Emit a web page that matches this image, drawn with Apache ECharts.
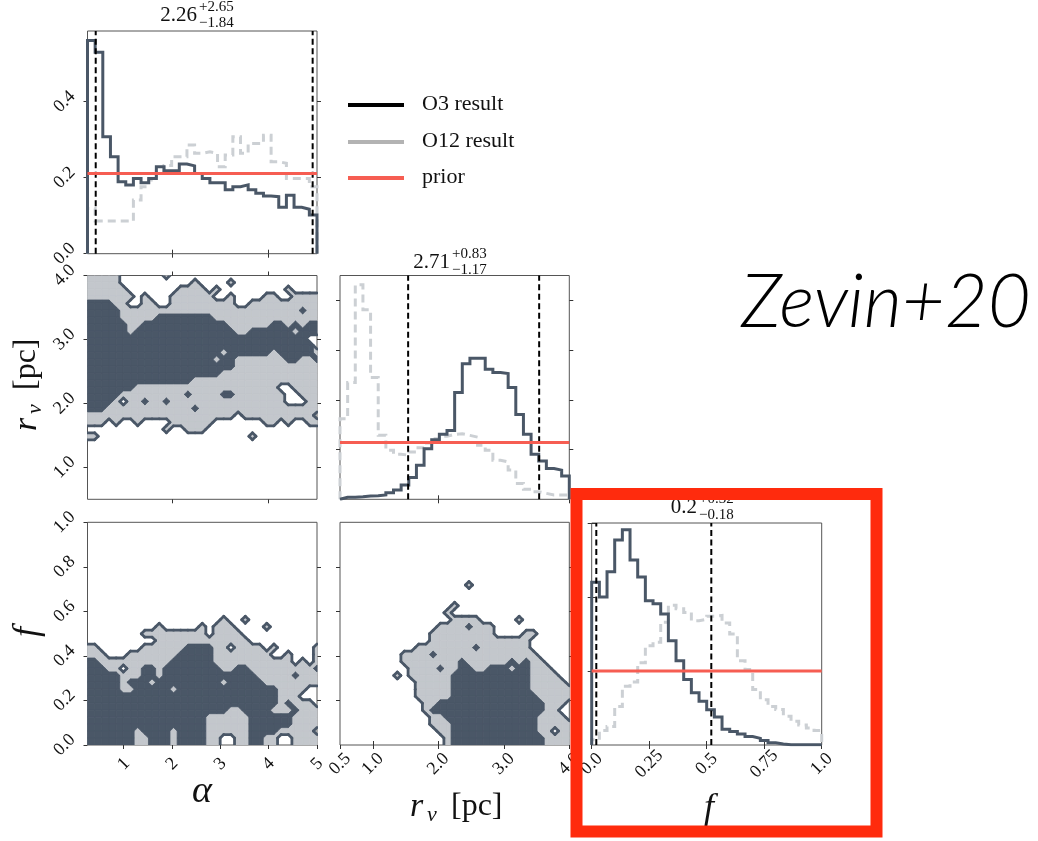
<!DOCTYPE html>
<html><head><meta charset="utf-8">
<script src="https://cdn.jsdelivr.net/npm/echarts@6/dist/echarts.min.js"></script>
<style>html,body{margin:0;padding:0;background:#fff}#c{width:1038px;height:841px}</style>
</head><body><div id="c"></div>
<script>
// ---------- data ----------
const alphaRange = [0.25, 5];
const rvRange = [0.5, 4];
const fRange = [0, 1];
const densAlphaMax = 0.586, densRvMax = 1.127, densFMax = 3.0;

const alphaO3 = [0.561,0.530,0.308,0.255,0.189,0.181,0.198,0.187,0.198,0.229,0.218,0.218,0.236,0.231,0.211,0.198,0.187,0.187,0.168,0.176,0.181,0.168,0.159,0.152,0.150,0.122,0.154,0.122,0.117,0.102];
const alphaO12 = [0.119,0.086,0.086,0.086,0.086,0.086,0.141,0.176,0.194,0.216,0.232,0.255,0.255,0.286,0.264,0.268,0.264,0.229,0.260,0.308,0.264,0.290,0.290,0.312,0.242,0.238,0.198,0.198,0.198,0.176];
const rvO3 = [0.010,0.010,0.013,0.017,0.018,0.022,0.033,0.047,0.072,0.110,0.172,0.255,0.300,0.327,0.347,0.538,0.683,0.710,0.710,0.655,0.638,0.633,0.563,0.427,0.327,0.227,0.193,0.155,0.147,0.117];
const rvO12 = [0.405,0.588,1.080,0.955,0.613,0.322,0.247,0.227,0.222,0.238,0.260,0.283,0.305,0.317,0.327,0.330,0.322,0.313,0.272,0.247,0.197,0.188,0.147,0.080,0.050,0.038,0.030,0.022,0.022,0.022];
const fO3 = [2.20,2.00,2.34,2.77,2.91,2.50,2.27,1.95,1.91,1.77,1.41,1.14,0.886,0.705,0.590,0.477,0.377,0.214,0.182,0.150,0.114,0.090,0.060,0.030,0.014,0.005,0.005,0.005,0.005,0.005];
const fO12 = [0.07,0.195,0.25,0.52,0.795,0.85,1.11,1.34,1.39,1.66,1.89,1.84,1.79,1.68,1.70,1.74,1.75,1.65,1.50,1.14,1.02,0.75,0.61,0.52,0.48,0.39,0.32,0.27,0.23,0.195];

const priorAlpha = 0.211, priorRv = 0.286, priorF = 1.0;
const qAlpha = [0.42, 4.91], qRv = [1.54, 3.54], qF = [0.02, 0.52];
const titleAlpha = ['2.26', '+2.65', '\u22121.84'];
const titleRv = ['2.71', '+0.83', '\u22121.17'];
const titleF = ['0.2', '+0.32', '\u22120.18'];
const legendLabels = ['O3 result', 'O12 result', 'prior'];

const alphaTicks = [1, 2, 3, 4, 5], alphaTickLabels = ['1', '2', '3', '4', '5'];
const alphaTicksUpper = [2, 4];
const rvTicks = [0.5, 1, 2, 3, 4], rvTickLabels = ['0.5', '1.0', '2.0', '3.0', '4.0'];
const rvTicksY = [1, 2, 3, 4], rvTickLabelsY = ['1.0', '2.0', '3.0', '4.0'];
const fTicksY = [0, 0.2, 0.4, 0.6, 0.8, 1], fTickLabelsY = ['0.0', '0.2', '0.4', '0.6', '0.8', '1.0'];
const fTicks = [0, 0.25, 0.5, 0.75, 1], fTickLabels = ['0.0', '0.25', '0.5', '0.75', '1.0'];
const densAlphaTicks = [0, 0.2, 0.4], densAlphaLabels = ['0.0', '0.2', '0.4'];
const densRvTicks = [0.25, 0.5, 0.75, 1.0];
const densFTicks = [1, 2, 3];

// contour level grids (rows from top to bottom), 0 = outside, 1 = outer level, 2 = inner level
const contourAlphaRv = [
"111110000001000000000000000000000",
"111110000000000100001000000000000",
"111111000000011110100000000010000",
"111111101000111111001000011001111",
"222211001100111111111001111111111",
"222221111111111111111111111111211",
"222221111122222222111111111111111",
"222222112222222222221111112212122",
"222222122222222222222112222221222",
"222222222222222222222222222222200",
"222222222222222222222222222222220",
"222222222222222222212222221222221",
"222222222222222222122111111122112",
"222222222222222222222111111111111",
"222222222222222222211111111111111",
"222222222222222111111111111111111",
"222222211111111111111111111001111",
"222221111111112111122111111100111",
"222210112112111111111111111100011",
"222111111111111211111111111111111",
"111111111111111111111011111111110",
"111010010000111111000000011010011",
"000000000001001110000000000000000",
"110000000000000000000001000000000",
"000000000000000000000000000000000",
"000000000000000000000000000000000",
"000000000000000000000000000000000",
"000000000000000000000000000000000",
"000000000000000000000000000000000",
"000000000000000000000000000000000",
"000000000000000000000000000000000",
"000000000000000000000000000000000",
"000000000000000000000000000000000"];

const contourAlphaF = [
"000000000000000000000000000000000",
"000000000000000000000000000000000",
"000000000000000000000000000000000",
"000000000000000000000000000000000",
"000000000000000000000000000000000",
"000000000000000000000000000000000",
"000000000000000000000000000000000",
"000000000000000000000000000000000",
"000000000000000000000000000000000",
"000000000000000000000000000000000",
"000000000000000000000000000000000",
"000000000000000000000000000000000",
"000000000000000000000000000000000",
"000000000000000000000000000000000",
"000000000000000000010010000000000",
"000000000010000010111000010000000",
"000000001111111110111100000000000",
"000000000011111111111110000000000",
"110000001111112222110111101000001",
"111000111111122222111111110010001",
"221111111111222222111111111110101",
"222110112212222222211221111111112",
"222221112212222222222222111112111",
"222221222122222222212222211111111",
"222221122222122222222222222111100",
"222222222222222222222222222111000",
"222222222222222222222222222121110",
"222222222222222222221122221112111",
"222222222222222221111112222221111",
"222222222222222221111112222221111",
"222222212222122221111112222111110",
"222222211222122221100112211001111",
"222222211222122221100112211001111"];

const contourRvF = [
"000000000000000000000000000000000",
"000000000000000000000000000000000",
"000000000000000000000000000000000",
"000000000000000000000000000000000",
"000000000000000000000000000000000",
"000000000000000000000000000000000",
"000000000000000000000000000000000",
"000000000000000000000000000000000",
"000000000000000000000000000000000",
"000000000000000000100000000000000",
"000000000000000000000000000000000",
"000000000000000000000000000000000",
"000000000000000010000000000000000",
"000000000000000100000000000000000",
"000000000000000011110000010000000",
"000000000000001111211100000000000",
"000000000000011111111100001100000",
"000000000000011111111111111000000",
"000000000001111111121111111000000",
"000000000111121111111111111100000",
"000000000111111112111111212110000",
"000000000011112112211222122111000",
"000000001011111122222222222111100",
"000000000001111122222222222111110",
"000000000001111122222222222111111",
"000000000001111122222222222211111",
"000000000000112222222222222221110",
"000000000000122222222222222221100",
"000000000000011222222222222211110",
"000000000000011122222222222211111",
"000000000000001122222222222211011",
"000000000000000122222222222221111",
"000000000000000122222222222221111"];

// ---------- styling ----------
const DARK = '#4a5767', LIGHT = '#c3c7cc', O12C = '#ccd0d4', PRIOR = '#f65d52';
const SERIF = "'Liberation Serif', 'DejaVu Serif', serif";

const grids = [
  {left: 87.5, top: 31, width: 229.5, height: 222.7},
  {left: 87.5, top: 275.5, width: 229.5, height: 223.8},
  {left: 87.5, top: 522.3, width: 229.5, height: 222.7},
  {left: 340, top: 275.5, width: 229.3, height: 223.8},
  {left: 340, top: 522.3, width: 229.3, height: 222.7},
  {left: 591.7, top: 523, width: 230, height: 222}
].map(g => Object.assign({show: true, borderColor: '#555', borderWidth: 1, backgroundColor: 'transparent', containLabel: false}, g));

function fmt(vals, labels) {
  return v => { const k = vals.findIndex(x => Math.abs(x - v) < 1e-9); return k < 0 ? '' : labels[k]; };
}
function axis(gi, position, range, ticks, labels, isX) {
  const a = {
    type: 'value', gridIndex: gi, position, min: range[0], max: range[1],
    axisLine: {show: false}, splitLine: {show: false},
    axisTick: {show: ticks.length > 0, length: 4, inside: false, lineStyle: {color: '#333', width: 1}, customValues: ticks},
    axisLabel: {show: false}
  };
  if (labels) {
    a.axisLabel = {
      show: true, customValues: ticks, formatter: fmt(ticks, labels), rotate: 45,
      align: 'center', verticalAlign: 'middle', margin: isX ? 19 : 23,
      fontFamily: SERIF, fontSize: 18, color: '#111', hideOverlap: false
    };
  }
  return a;
}

const xAxis = [
  axis(0, 'bottom', alphaRange, alphaTicksUpper, null, true), axis(0, 'top', alphaRange, alphaTicksUpper, null, true),
  axis(1, 'bottom', alphaRange, alphaTicksUpper, null, true), axis(1, 'top', alphaRange, alphaTicksUpper, null, true),
  axis(2, 'bottom', alphaRange, alphaTicks, alphaTickLabels, true), axis(2, 'top', alphaRange, [1, 2, 3, 4], null, true),
  axis(3, 'bottom', rvRange, [2, 4], null, true), axis(3, 'top', rvRange, [2, 4], null, true),
  axis(4, 'bottom', rvRange, rvTicks, rvTickLabels, true), axis(4, 'top', rvRange, [1, 2, 3], null, true),
  axis(5, 'bottom', fRange, fTicks, fTickLabels, true), axis(5, 'top', fRange, [0.25, 0.5, 0.75], null, true)
];
const yAxis = [
  axis(0, 'left', [0, densAlphaMax], densAlphaTicks, densAlphaLabels, false), axis(0, 'right', [0, densAlphaMax], [0.2, 0.4], null, false),
  axis(1, 'left', rvRange, rvTicksY, rvTickLabelsY, false), axis(1, 'right', rvRange, [1, 2, 3], null, false),
  axis(2, 'left', fRange, fTicksY, fTickLabelsY, false), axis(2, 'right', fRange, [0.2, 0.4, 0.6, 0.8], null, false),
  axis(3, 'left', [0, densRvMax], densRvTicks, null, false), axis(3, 'right', [0, densRvMax], densRvTicks, null, false),
  axis(4, 'left', fRange, [0.2, 0.4, 0.6, 0.8], null, false), axis(4, 'right', fRange, [0.2, 0.4, 0.6, 0.8], null, false),
  axis(5, 'left', [0, densFMax], densFTicks, null, false), axis(5, 'right', [0, densFMax], densFTicks, null, false)
];

// ---------- series builders ----------
function stepPts(vals, range) {
  const n = vals.length, w = (range[1] - range[0]) / n;
  const pts = [[range[0], 0]];
  vals.forEach((v, k) => { pts.push([range[0] + k * w, v]); pts.push([range[0] + (k + 1) * w, v]); });
  pts.push([range[1], 0]);
  return pts;
}
function lineSeries(gi, data, color, width, type, z) {
  return {type: 'line', xAxisIndex: 2 * gi, yAxisIndex: 2 * gi, data, symbol: 'none', silent: true, animation: false,
    lineStyle: {color, width, type, join: 'miter', cap: 'butt'}, z};
}
function histSeries(gi, o3, o12, range, ymax, prior, q) {
  const s = [];
  s.push(lineSeries(gi, stepPts(o12, range), O12C, 3, [8, 5], 2));
  s.push(lineSeries(gi, stepPts(o3, range), DARK, 3, 'solid', 3));
  q.forEach(v => s.push(lineSeries(gi, [[v, 0], [v, ymax]], '#000', 2, [6, 3.5], 4)));
  s.push(lineSeries(gi, [[range[0], prior], [range[1], prior]], PRIOR, 3, 'solid', 5));
  return s;
}
function contourSeries(gi, rows, xr, yr) {
  const n = rows[0].length - 1, m = rows.length - 1;
  const data = [];
  for (let j = 0; j < m; j++) for (let i = 0; i < n; i++) {
    data.push([xr[0] + (i + 0.5) * (xr[1] - xr[0]) / n, yr[1] - (j + 0.5) * (yr[1] - yr[0]) / m, i, j]);
  }
  return {
    type: 'custom', coordinateSystem: 'cartesian2d', xAxisIndex: 2 * gi, yAxisIndex: 2 * gi,
    clip: true, silent: true, animation: false, encode: {x: 0, y: 1}, data,
    renderItem(params, api) {
      const i = api.value(2), j = api.value(3);
      const corners = [[i, j], [i + 1, j], [i + 1, j + 1], [i, j + 1]];
      const vals = corners.map(c => +rows[c[1]][c[0]]);
      const pts = corners.map(c => api.coord([xr[0] + c[0] * (xr[1] - xr[0]) / n, yr[1] - c[1] * (yr[1] - yr[0]) / m]));
      const children = [];
      [0.5, 1.5].forEach((t, k) => {
        const poly = [], mid = [];
        for (let c = 0; c < 4; c++) {
          const d = (c + 1) % 4, a = vals[c] > t, b = vals[d] > t;
          if (a) { poly.push(pts[c]); mid.push(false); }
          if (a !== b) { poly.push([(pts[c][0] + pts[d][0]) / 2, (pts[c][1] + pts[d][1]) / 2]); mid.push(true); }
        }
        if (poly.length >= 3) {
          const col = k ? DARK : LIGHT;
          children.push({type: 'polygon', shape: {points: poly}, style: {fill: col, stroke: col, lineWidth: 0.8}, z2: k + 1});
          if (k === 0) {
            for (let p = 0; p < poly.length; p++) {
              const q = (p + 1) % poly.length;
              if (mid[p] && mid[q]) children.push({type: 'line', shape: {x1: poly[p][0], y1: poly[p][1], x2: poly[q][0], y2: poly[q][1]},
                style: {stroke: DARK, lineWidth: 2.8, lineCap: 'round'}, z2: 3});
            }
          }
        }
      });
      return {type: 'group', children};
    }
  };
}

const series = [].concat(
  histSeries(0, alphaO3, alphaO12, alphaRange, densAlphaMax, priorAlpha, qAlpha),
  [contourSeries(1, contourAlphaRv, alphaRange, rvRange)],
  [contourSeries(2, contourAlphaF, alphaRange, fRange)],
  histSeries(3, rvO3, rvO12, rvRange, densRvMax, priorRv, qRv),
  [contourSeries(4, contourRvF, rvRange, fRange)],
  histSeries(5, fO3, fO12, fRange, densFMax, priorF, qF)
);

// ---------- text / decorations ----------
function txt(x, y, text, size, opts) {
  return Object.assign({type: 'text', x, y, style: Object.assign({text, fontSize: size, fontFamily: SERIF, fill: '#111', align: 'left', verticalAlign: 'middle'}, opts || {})}, {z: 50});
}
function title(xr, y, t) {
  return [txt(xr, y, t[0], 21, {align: 'right'}), txt(xr + 2, y - 8, t[1], 15), txt(xr + 2, y + 8, t[2], 15)];
}
const it = {fontStyle: 'italic'};
const graphic = [].concat(
  title(197, 15, titleAlpha), title(450, 262, titleRv), title(697, 507, titleF),
  [
    {type: 'line', shape: {x1: 348, y1: 105, x2: 404, y2: 105}, style: {stroke: '#000', lineWidth: 4}},
    {type: 'line', shape: {x1: 348, y1: 142, x2: 404, y2: 142}, style: {stroke: '#b3b3b3', lineWidth: 4}},
    {type: 'line', shape: {x1: 348, y1: 178, x2: 404, y2: 178}, style: {stroke: PRIOR, lineWidth: 4}},
    txt(422, 104, legendLabels[0], 22), txt(422, 141, legendLabels[1], 22), txt(422, 177, legendLabels[2], 22),
    txt(202, 792, '\u03b1', 38, Object.assign({align: 'center'}, it)),
    txt(410, 807, 'r', 34, it), txt(427, 815, 'v', 22, it), txt(451, 807, '[pc]', 32),
    txt(709, 809, 'f', 36, Object.assign({align: 'center'}, it)),
    {type: 'group', x: 27, y: 389, rotation: Math.PI / 2, children: [
      txt(-42, 0, 'r', 34, it), txt(-25, 8, 'v', 22, it), txt(-1, 0, '[pc]', 32)
    ]},
    {type: 'group', x: 28, y: 632, rotation: Math.PI / 2, children: [
      txt(0, 0, 'f', 36, Object.assign({align: 'center'}, it))
    ]},
    {type: 'text', x: 741, y: 303, z: 50, style: {text: 'Zevin+20', fontSize: 74, fontFamily: "Lato, 'Open Sans', 'Liberation Sans', sans-serif", fontWeight: 300, fontStyle: 'italic', fill: '#000', align: 'left', verticalAlign: 'middle'}},
    {type: 'rect', z: 100, shape: {x: 576.5, y: 494, width: 300, height: 337.5}, style: {fill: 'none', stroke: '#ff2b0d', lineWidth: 12}}
  ]
);

const chart = echarts.init(document.getElementById('c'), null, {renderer: 'canvas'});
chart.setOption({animation: false, backgroundColor: '#fff', grid: grids, xAxis, yAxis, series, graphic});
</script></body></html>
